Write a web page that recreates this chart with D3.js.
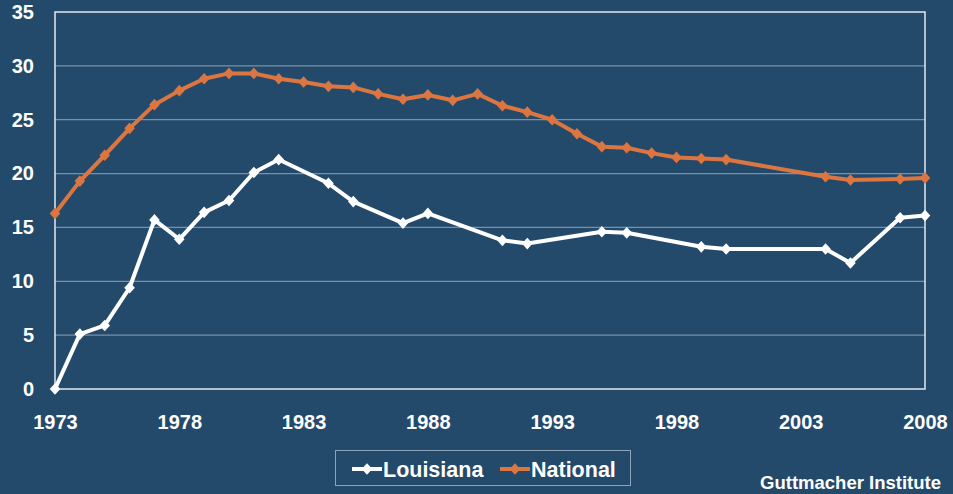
<!DOCTYPE html>
<html>
<head>
<meta charset="utf-8">
<script src="https://cdn.jsdelivr.net/npm/d3@7"></script>
<style>
  html, body { margin: 0; padding: 0; background: #244a6b; }
  svg { display: block; font-family: "Liberation Sans", Arial, sans-serif; font-weight: bold; }
</style>
</head>
<body>
<script>
// data
var louisianaYears = [1973, 1974, 1975, 1976, 1977, 1978, 1979, 1980, 1981, 1982, 1984, 1985, 1987, 1988, 1991, 1992, 1995, 1996, 1999, 2000, 2004, 2005, 2007, 2008];
var louisianaValues = [0, 5.1, 5.9, 9.4, 15.7, 13.9, 16.4, 17.5, 20.1, 21.3, 19.1, 17.4, 15.4, 16.3, 13.8, 13.5, 14.6, 14.5, 13.2, 13.0, 13.0, 11.7, 15.9, 16.1];

var nationalYears = [1973, 1974, 1975, 1976, 1977, 1978, 1979, 1980, 1981, 1982, 1983, 1984, 1985, 1986, 1987, 1988, 1989, 1990, 1991, 1992, 1993, 1994, 1995, 1996, 1997, 1998, 1999, 2000, 2004, 2005, 2007, 2008];
var nationalValues = [16.3, 19.3, 21.7, 24.2, 26.4, 27.7, 28.8, 29.3, 29.3, 28.8, 28.5, 28.1, 28.0, 27.4, 26.9, 27.3, 26.8, 27.4, 26.3, 25.7, 25.0, 23.7, 22.5, 22.4, 21.9, 21.5, 21.4, 21.3, 19.7, 19.4, 19.5, 19.6];

var xTicks = [1973, 1978, 1983, 1988, 1993, 1998, 2003, 2008];
var yTicks = [0, 5, 10, 15, 20, 25, 30, 35];
var seriesNames = ["Louisiana", "National"];
var seriesColors = ["#ffffff", "#dc7640"];

var width = 953, height = 494;
var plotLeft = 55, plotRight = 925, plotTop = 12, plotBottom = 389;

var svg = d3.select("body").append("svg")
  .attr("width", width)
  .attr("height", height);

var x = d3.scaleLinear().domain([1973, 2008]).range([plotLeft, plotRight]);
var y = d3.scaleLinear().domain([0, 35]).range([plotBottom, plotTop]);

// grid lines
svg.append("g")
  .selectAll("line")
  .data(yTicks.filter(function(d){ return d > 0 && d < 35; }))
  .enter().append("line")
  .attr("x1", plotLeft).attr("x2", plotRight)
  .attr("y1", function(d){ return y(d); })
  .attr("y2", function(d){ return y(d); })
  .attr("stroke", "#7890a8")
  .attr("stroke-width", 1.2);

// plot border
svg.append("rect")
  .attr("x", plotLeft).attr("y", plotTop)
  .attr("width", plotRight - plotLeft).attr("height", plotBottom - plotTop)
  .attr("fill", "none")
  .attr("stroke", "#e4e9ee")
  .attr("stroke-width", 1.5);

// axes
var yAxis = d3.axisLeft(y).tickValues(yTicks).tickSize(0).tickPadding(21);
svg.append("g")
  .attr("class", "y axis")
  .attr("transform", "translate(" + plotLeft + ",0)")
  .call(yAxis)
  .call(function(g){ g.select(".domain").remove(); })
  .selectAll("text")
  .attr("fill", "#ffffff")
  .attr("font-size", 20)
  .attr("font-weight", "bold")
  .attr("font-family", "Liberation Sans, Arial, sans-serif");

var xAxis = d3.axisBottom(x).tickValues(xTicks).tickFormat(d3.format("d")).tickSize(0).tickPadding(26);
svg.append("g")
  .attr("class", "x axis")
  .attr("transform", "translate(0," + plotBottom + ")")
  .call(xAxis)
  .call(function(g){ g.select(".domain").remove(); })
  .selectAll("text")
  .attr("fill", "#ffffff")
  .attr("font-size", 20)
  .attr("font-weight", "bold")
  .attr("font-family", "Liberation Sans, Arial, sans-serif");

// series
var series = [
  { years: louisianaYears, values: louisianaValues, color: seriesColors[0] },
  { years: nationalYears, values: nationalValues, color: seriesColors[1] }
];

var line = d3.line()
  .x(function(d){ return x(d[0]); })
  .y(function(d){ return y(d[1]); });

var diamond = d3.symbol().type(d3.symbolSquare).size(56);

series.slice().reverse().forEach(function(s){
  var pts = s.years.map(function(yr, i){ return [yr, s.values[i]]; });
  svg.append("path")
    .datum(pts)
    .attr("d", line)
    .attr("fill", "none")
    .attr("stroke", s.color)
    .attr("stroke-width", 4)
    .attr("stroke-linejoin", "round");
  svg.append("g")
    .selectAll("path")
    .data(pts)
    .enter().append("path")
    .attr("d", diamond)
    .attr("transform", function(d){ return "translate(" + x(d[0]) + "," + y(d[1]) + ") scale(1,1.1) rotate(45)"; })
    .attr("fill", s.color);
});

// legend
var legend = svg.append("g");
legend.append("rect")
  .attr("x", 335.5).attr("y", 450.5)
  .attr("width", 295).attr("height", 35)
  .attr("fill", "none")
  .attr("stroke", "#8fa3b8")
  .attr("stroke-width", 1);

var legendX = [352, 500];
seriesNames.forEach(function(name, i){
  var g = legend.append("g").attr("transform", "translate(" + legendX[i] + ",469)");
  g.append("line")
    .attr("x1", 0).attr("x2", 30)
    .attr("stroke", seriesColors[i])
    .attr("stroke-width", 4);
  g.append("path")
    .attr("d", diamond)
    .attr("transform", "translate(15,0) scale(1,1.1) rotate(45)")
    .attr("fill", seriesColors[i]);
  g.append("text")
    .attr("x", 31).attr("y", 7.5)
    .attr("fill", "#ffffff")
    .attr("font-size", 21.5)
    .text(name);
});

svg.append("text")
  .attr("x", 941).attr("y", 489)
  .attr("text-anchor", "end")
  .attr("fill", "#ffffff")
  .attr("font-size", 18.5)
  .text("Guttmacher Institute");
</script>
</body>
</html>
